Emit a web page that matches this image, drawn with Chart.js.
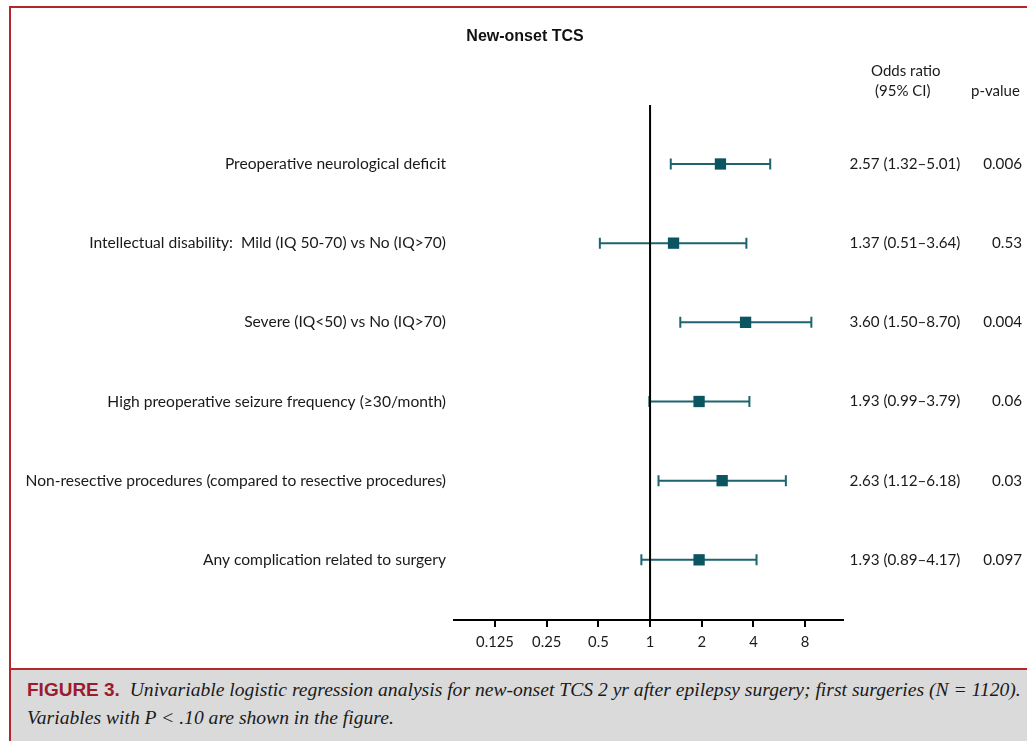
<!DOCTYPE html>
<html>
<head>
<meta charset="utf-8">
<script src="https://cdn.jsdelivr.net/npm/chart.js@4.4.1/dist/chart.umd.min.js"></script>
<style>
  html, body { margin: 0; padding: 0; background: #fff; }
  body { width: 1027px; height: 741px; position: relative; overflow: hidden; }
  #wrap { position: absolute; left: 0; top: 0; width: 1027px; height: 668px; }
  .abs { position: absolute; white-space: nowrap; }
  #title { left: 0; width: 1050px; top: 27px; text-align: center; font: bold 16px "Liberation Sans", Arial, sans-serif; color: #111; }
  .hdr { font: 15px Lato, sans-serif; color: #1a1a1a; }
  #topline { left: 9px; top: 6px; width: 1018px; height: 2px; background: #b3262d; }
  #leftline { left: 9px; top: 6px; width: 2px; height: 735px; background: #b3262d; z-index: 3; }
  #caption { left: 11px; top: 668px; width: 1016px; height: 73px; background: #dadada; border-top: 2px solid #b3262d; box-sizing: border-box; }
  #captext { left: 27px; top: 676px; font: italic 19.6px "Liberation Serif", "DejaVu Serif", serif; line-height: 28px; color: #1a1a1a; }
  #captext b { font: bold 19px "Liberation Sans", Arial, sans-serif; font-style: normal; color: #9b1c2c; }
</style>
</head>
<body>
<div id="wrap"><canvas id="c" width="1027" height="668"></canvas></div>
<div class="abs" id="topline"></div>
<div class="abs" id="leftline"></div>
<div class="abs" id="title">New-onset TCS</div>
<div class="abs hdr" style="left:871px; top:61px;">Odds ratio</div>
<div class="abs hdr" style="left:875px; top:81px;">(95% CI)</div>
<div class="abs hdr" style="left:971px; top:81px;">p-value</div>
<div class="abs" id="caption"></div>
<div class="abs" id="captext"><b>FIGURE 3.</b>&nbsp;&nbsp;Univariable logistic regression analysis for new-onset TCS 2 yr after epilepsy surgery; first surgeries (N = 1120).<br>Variables with P &lt; .10 are shown in the figure.</div>
<script>
const categories = [
  'Preoperative neurological deficit',
  'Intellectual disability:  Mild (IQ 50-70) vs No (IQ>70)',
  'Severe (IQ<50) vs No (IQ>70)',
  'High preoperative seizure frequency (\u226530/month)',
  'Non-resective procedures (compared to resective procedures)',
  'Any complication related to surgery'
];
const oddsRatio = [2.57, 1.37, 3.60, 1.93, 2.63, 1.93];
const ciLow     = [1.32, 0.51, 1.50, 0.99, 1.12, 0.89];
const ciHigh    = [5.01, 3.64, 8.70, 3.79, 6.18, 4.17];
const pValues   = ['0.006', '0.53', '0.004', '0.06', '0.03', '0.097'];
const tickValues = [0.125, 0.25, 0.5, 1, 2, 4, 8];
const tickLabels = ['0.125', '0.25', '0.5', '1', '2', '4', '8'];

const LABEL_FONT = { family: 'Lato', size: 15.6 };
const TABLE_FONT = { family: 'Lato', size: 15.2 };
const TICK_FONT = { family: 'Lato', size: 14.8 };
const TEXT_COLOR = '#1a1a1a';
const BAR_COLOR = '#1d6470';
const BOX_COLOR = '#0b5560';

const errorBars = {
  id: 'errorBars',
  beforeDatasetsDraw(chart) {
    const { ctx, scales: { x, y } } = chart;
    ctx.save();
    ctx.strokeStyle = BAR_COLOR;
    ctx.lineWidth = 2;
    for (let i = 0; i < oddsRatio.length; i++) {
      const py = y.getPixelForValue(i);
      const x0 = x.getPixelForValue(ciLow[i]);
      const x1 = x.getPixelForValue(ciHigh[i]);
      ctx.beginPath();
      ctx.moveTo(x0, py); ctx.lineTo(x1, py);
      ctx.moveTo(x0, py - 5.5); ctx.lineTo(x0, py + 5.5);
      ctx.moveTo(x1, py - 5.5); ctx.lineTo(x1, py + 5.5);
      ctx.stroke();
    }
    ctx.restore();
  }
};

const sideTable = {
  id: 'sideTable',
  afterDraw(chart) {
    const { ctx, scales: { y } } = chart;
    ctx.save();
    ctx.font = `${TABLE_FONT.size}px ${TABLE_FONT.family}`;
    ctx.fillStyle = TEXT_COLOR;
    ctx.textBaseline = 'middle';
    for (let i = 0; i < oddsRatio.length; i++) {
      const py = y.getPixelForValue(i);
      const txt = `${oddsRatio[i].toFixed(2)} (${ciLow[i].toFixed(2)}\u2013${ciHigh[i].toFixed(2)})`;
      ctx.textAlign = 'center';
      ctx.fillText(txt, 905, py);
      ctx.textAlign = 'right';
      ctx.fillText(pValues[i], 1022, py);
    }
    ctx.restore();
  }
};

new Chart(document.getElementById('c'), {
  type: 'scatter',
  data: {
    datasets: [
      {
        data: categories.map((_, i) => ({ x: oddsRatio[i], y: i })),
        pointStyle: 'rect',
        radius: 8,
        backgroundColor: BOX_COLOR,
        borderColor: BOX_COLOR,
        borderWidth: 0
      },
      {
        type: 'line',
        data: [{ x: 1, y: -0.745 }, { x: 1, y: 5.76 }],
        borderColor: '#000',
        borderWidth: 2,
        pointRadius: 0
      }
    ]
  },
  options: {
    responsive: false,
    animation: false,
    devicePixelRatio: 1,
    layout: { padding: { top: 105, right: 184, bottom: 0, left: 0 } },
    plugins: { legend: { display: false }, tooltip: { enabled: false }, title: { display: false } },
    scales: {
      x: {
        type: 'logarithmic',
        min: 0.0721,
        max: 13.3,
        afterBuildTicks(scale) { scale.ticks = tickValues.map(v => ({ value: v })); },
        afterFit(scale) { scale.height = 48; },
        ticks: {
          autoSkip: false,
          maxRotation: 0,
          padding: 6,
          color: TEXT_COLOR,
          font: TICK_FONT,
          callback: (v) => tickLabels[tickValues.indexOf(v)]
        },
        grid: { drawOnChartArea: false, drawTicks: true, tickLength: 7, color: '#000', lineWidth: 2 },
        border: { display: true, color: '#000', width: 2 }
      },
      y: {
        type: 'linear',
        reverse: true,
        min: -0.745,
        max: 5.76,
        afterBuildTicks(scale) { scale.ticks = categories.map((_, i) => ({ value: i })); },
        afterFit(scale) { scale.width = 454; },
        ticks: {
          autoSkip: false,
          padding: 8,
          color: TEXT_COLOR,
          font: LABEL_FONT,
          callback: (v) => categories[v]
        },
        grid: { display: false, drawTicks: false },
        border: { display: false }
      }
    }
  },
  plugins: [errorBars, sideTable]
});
</script>
</body>
</html>
